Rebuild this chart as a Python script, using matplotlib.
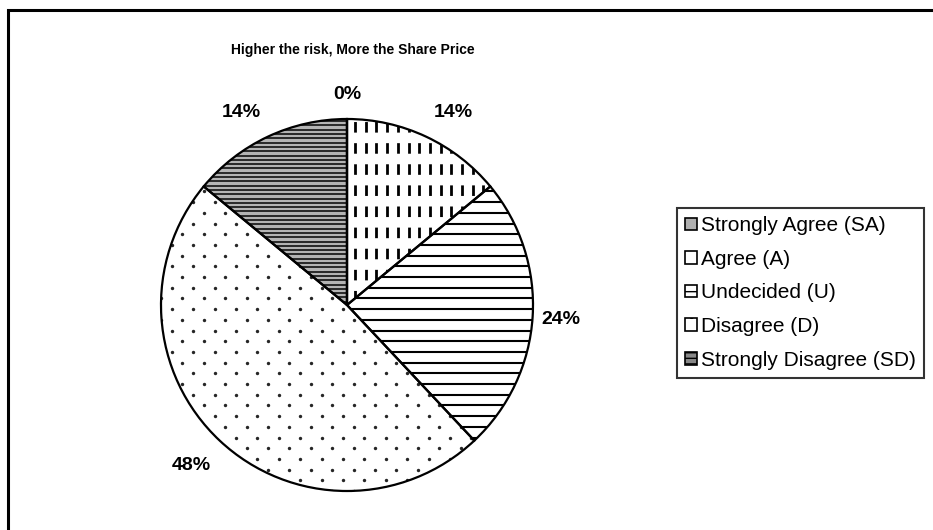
import matplotlib
matplotlib.use("Agg")
import matplotlib.pyplot as plt
from matplotlib.patches import Rectangle
from matplotlib import font_manager
import numpy as np

# data
categories = ["Strongly Agree (SA)", "Agree (A)", "Undecided (U)",
              "Disagree (D)", "Strongly Disagree (SD)"]
shares = [0, 14, 24, 48, 14]
pct_labels = ["0%", "14%", "24%", "48%", "14%"]

plt.rcParams["font.family"] = ["Liberation Sans", "DejaVu Sans"]

W, H = 933, 530
fig = plt.figure(figsize=(W / 100, H / 100), dpi=100)

# outer chart border (only left/top edges show in the crop)
fig.patches.append(Rectangle((8 / W, -0.2), 2.0, 1 - 10 / H + 0.2,
                             transform=fig.transFigure, fill=False,
                             edgecolor="black", linewidth=2.2))

# pie axes: centre (347, 305), radius 186 px
cx, cy, r = 347, 305, 186
px = 1.0 / r   # one pixel in data units
ax = fig.add_axes([(cx - r) / W, (H - cy - r) / H, 2 * r / W, 2 * r / H])

faces = ["#b0b0b0", "white", "white", "white", "#b4b4b4"]

wedges, texts = ax.pie(shares, startangle=90, counterclock=False, radius=1,
                       labels=pct_labels, labeldistance=1.12,
                       colors=faces,
                       wedgeprops=dict(edgecolor="none", linewidth=0),
                       textprops=dict(fontsize=14, fontweight="bold"))
ax.set_xlim(-1, 1)
ax.set_ylim(-1, 1)
ax.axis("off")

# Excel-like fill patterns, clipped to each wedge
# Agree: vertical dashes
xs = np.arange(8, 186, 10.7) * px
lc = ax.vlines(xs, -1, 1, colors="black", linewidth=2.0,
               linestyles=[(0, (7.6 / 2.0, 7.6 / 2.0))], zorder=2)
lc.set_clip_path(wedges[1])

# Undecided: horizontal lines
ys = np.arange(-186, 186, 10.7) * px
lc = ax.hlines(ys, -1, 1, colors="black", linewidth=1.5, zorder=2)
lc.set_clip_path(wedges[2])

# Strongly disagree: dense horizontal lines
ys = np.arange(-186, 186, 4.3) * px
lc = ax.hlines(ys, -1, 1, colors="#111111", linewidth=1.2, zorder=2)
lc.set_clip_path(wedges[4])

# Disagree: staggered dots
dx, dy = 21.4, 10.7
pts = []
for i, yy in enumerate(np.arange(-186, 186, dy)):
    off = 0 if i % 2 == 0 else dx / 2
    for xx in np.arange(-186 + off, 186, dx):
        pts.append((xx * px, yy * px))
pts = np.array(pts)
sc = ax.scatter(pts[:, 0], pts[:, 1], s=6, color="#262626",
                linewidths=0, zorder=2)
sc.set_clip_path(wedges[3])

# outlines on top
ax.pie(shares, startangle=90, counterclock=False, radius=1,
       wedgeprops=dict(fill=False, edgecolor="black", linewidth=1.6,
                       zorder=3))
ax.set_xlim(-1, 1)
ax.set_ylim(-1, 1)

# Excel-style label placement: (distance, angle shift in degrees)
label_place = [(1.13, 0.0), (1.18, -3.7), (1.153, -0.4), (1.20, -0.9), (1.18, 3.7)]
for w, t, (d, da) in zip(wedges, texts, label_place):
    ang = np.deg2rad((w.theta1 + w.theta2) / 2 + da)
    t.set_position((d * np.cos(ang), d * np.sin(ang)))
    t.set_ha("center")
    t.set_va("center")

# title: condensed bold face if one is installed
names = {f.name for f in font_manager.fontManager.ttflist}
narrow = [n for n in ("Liberation Sans Narrow", "DejaVu Sans Condensed") if n in names]
if narrow:
    tfam, tsize = narrow[0], 10.5
else:
    tfam, tsize = "Liberation Sans", 10
fig.text(353 / W, 1 - 50 / H, "Higher the risk, More the Share Price",
         ha="center", va="center", fontsize=tsize, fontweight="bold",
         family=[tfam, "DejaVu Sans"])

# legend proxies
proxies = [
    Rectangle((0, 0), 1, 1, facecolor="#b0b0b0", edgecolor="black", lw=1.2),
    Rectangle((0, 0), 1, 1, facecolor="white", edgecolor="black", lw=1.2),
    Rectangle((0, 0), 1, 1, facecolor="white", edgecolor="black", lw=1.2, hatch="-"),
    Rectangle((0, 0), 1, 1, facecolor="white", edgecolor="black", lw=1.2, hatch="."),
    Rectangle((0, 0), 1, 1, facecolor="#888888", edgecolor="black", lw=1.2, hatch="---"),
]
leg = fig.legend(proxies, categories, loc="upper left",
                 bbox_to_anchor=(677 / W, 1 - 208 / H),
                 frameon=True, fancybox=False, fontsize=15,
                 handlelength=0.55, handleheight=0.55, handletextpad=0.2,
                 labelspacing=0.7, borderpad=0.4, borderaxespad=0)
leg.get_frame().set_edgecolor("black")
leg.get_frame().set_linewidth(1.5)

fig.savefig("out.png", dpi=100)
